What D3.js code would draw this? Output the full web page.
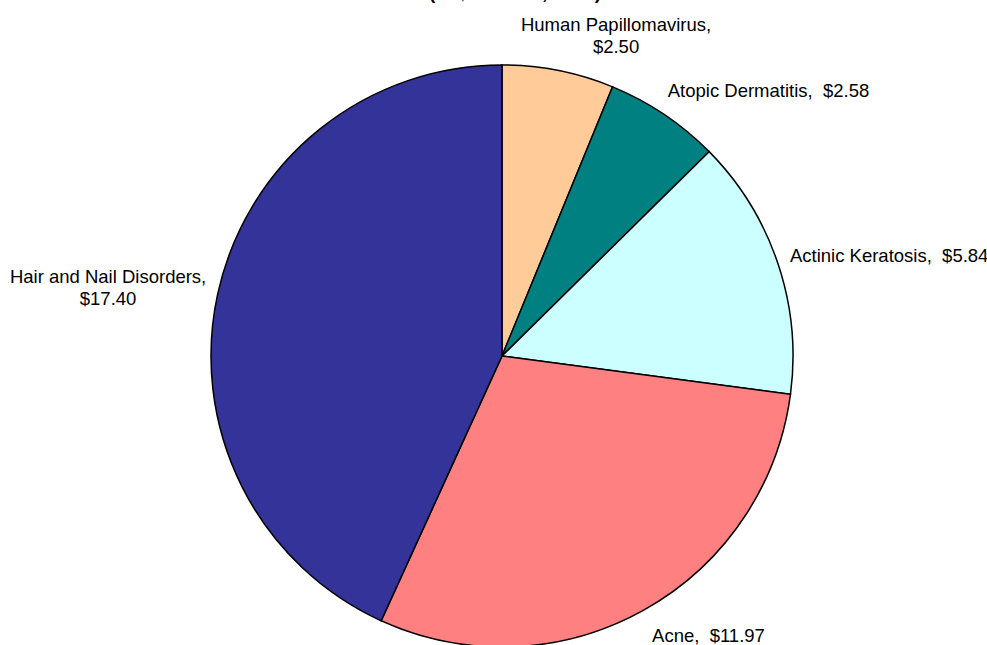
<!DOCTYPE html>
<html>
<head>
<meta charset="utf-8">
<script src="https://cdn.jsdelivr.net/npm/d3@7"></script>
<style>
  body { margin: 0; background: #fff; }
  text { font-family: "Liberation Sans", Arial, sans-serif; white-space: pre; }
</style>
</head>
<body>
<svg id="chart"></svg>
<script>
const categories = ["Human Papillomavirus", "Atopic Dermatitis", "Actinic Keratosis", "Acne", "Hair and Nail Disorders"];
const values = [2.50, 2.58, 5.84, 11.97, 17.40];
const colors = ["#FFCC99", "#008080", "#CCFFFF", "#FF8080", "#333399"];
const titleText = "(in $ Billions, 2004)";

const width = 987;
const height = 645;
const cx = 502, cy = 356;
const radius = 291;

const svg = d3.select("#chart")
    .attr("width", width)
    .attr("height", height);

// title sits almost entirely above the top edge in the reference
svg.append("text")
    .attr("x", 515)
    .attr("y", -1)
    .attr("text-anchor", "middle")
    .attr("font-size", 19)
    .attr("font-weight", "bold")
    .text(titleText);

const data = categories.map((c, i) => ({ name: c, value: values[i], color: colors[i] }));

const pie = d3.pie()
    .value(d => d.value)
    .sort(null);

const arc = d3.arc().innerRadius(0).outerRadius(radius);
const labelArc = d3.arc().innerRadius(310).outerRadius(310);

const g = svg.append("g").attr("transform", `translate(${cx},${cy})`);

const arcs = pie(data);

g.selectAll("path")
    .data(arcs)
    .enter()
    .append("path")
    .attr("d", arc)
    .attr("fill", d => d.data.color)
    .attr("stroke", "#000")
    .attr("stroke-width", 1.5);

// label layout: text lines, anchor and a small nudge
const labelLines = d => {
    const v = "$" + d.data.value.toFixed(2);
    if (d.index === 0 || d.index === 4) return [d.data.name + ",", v];
    return [d.data.name + ",  " + v];
};
const anchors = ["middle", "start", "start", "start", "middle"];
const nudges = [[54, -16], [-7, -8], [-6, -2], [0, 9], [-91, -2]];

arcs.forEach((d, i) => {
    const [lx, ly] = labelArc.centroid(d);
    const lines = labelLines(d);
    const t = g.append("text")
        .attr("text-anchor", anchors[i])
        .attr("font-size", 18.5)
        .attr("fill", "#000");
    lines.forEach((line, j) => {
        t.append("tspan")
            .attr("x", lx + nudges[i][0])
            .attr("y", ly + nudges[i][1] + j * 22 - (lines.length - 1) * 11 + 6)
            .text(line);
    });
});
</script>
</body>
</html>
